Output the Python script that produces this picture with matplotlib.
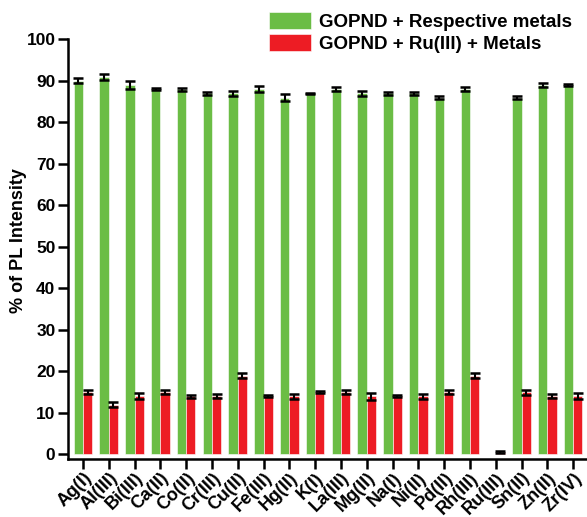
import numpy as np
import matplotlib
matplotlib.use("Agg")
import matplotlib.pyplot as plt

# Ion tiep xuc va cuong do PL (%)
metals = ["Ag(I)", "Al(III)", "Bi(III)", "Ca(II)", "Co(II)", "Cr(III)", "Cu(II)",
          "Fe(III)", "Hg(II)", "K(I)", "La(III)", "Mg(II)", "Na(I)", "Ni(II)",
          "Pd(II)", "Rh(III)", "Ru(III)", "Sn(II)", "Zn(II)", "Zr(IV)"]

# GOPND + kim loai tuong ung (Ru(III) khong do -> 0)
pl_metal = [90, 91, 89, 88, 88, 87, 87, 88, 86, 87, 88, 87, 87, 87, 86, 88, 0, 86, 89, 89]
err_metal = [0.6, 0.7, 1.0, 0.2, 0.4, 0.4, 0.6, 0.7, 0.9, 0.2, 0.5, 0.5, 0.3, 0.4, 0.4, 0.5,
             np.nan, 0.4, 0.5, 0.2]

# GOPND + Ru(III) + kim loai
pl_ru = [15, 12, 14, 15, 14, 14, 19, 14, 14, 15, 15, 14, 14, 14, 15, 19, 0.6, 15, 14, 14]
err_ru = [0.5, 0.6, 0.7, 0.5, 0.3, 0.5, 0.7, 0.2, 0.6, 0.3, 0.5, 0.8, 0.2, 0.6, 0.5, 0.7,
          0.2, 0.6, 0.5, 0.7]

GREEN = "#6bbd45"
RED = "#ed1c24"

plt.rcParams["font.family"] = ["Liberation Sans", "DejaVu Sans"]
plt.rcParams["font.weight"] = "bold"

fig = plt.figure(figsize=(5.87, 5.17), dpi=100)
ax = fig.add_axes([68 / 587, 1 - 458.5 / 517, (586 - 68) / 587, (458.5 - 39.5) / 517])

x = np.arange(len(metals))
w = 0.36
ax.bar(x - w / 2, pl_metal, w, color=GREEN, edgecolor="white", linewidth=0.4,
       label="GOPND + Respective metals")
ax.bar(x + w / 2, pl_ru, w, color=RED, edgecolor="white", linewidth=0.4,
       label="GOPND + Ru(III) + Metals")
ax.errorbar(x - w / 2, pl_metal, yerr=err_metal, fmt="none", ecolor="black",
            elinewidth=1.5, capsize=3.5, capthick=1.8)
ax.errorbar(x + w / 2, pl_ru, yerr=err_ru, fmt="none", ecolor="black",
            elinewidth=1.5, capsize=3.5, capthick=1.8)

ax.set_xlim(-0.58, 19.5)
ax.set_ylim(-1, 100)
ax.set_yticks(np.arange(0, 101, 10))
ax.set_xticks(x)
ax.set_xticklabels(metals, rotation=45, ha="right", va="top", rotation_mode="anchor",
                   fontsize=13, fontweight="bold")
ax.tick_params(axis="x", length=7, width=1.8, pad=1)
ax.tick_params(axis="y", length=7, width=1.8, labelsize=12.5, pad=2)
for lbl in ax.get_yticklabels():
    lbl.set_fontweight("bold")

for s in ["top", "right"]:
    ax.spines[s].set_visible(False)
for s in ["left", "bottom"]:
    ax.spines[s].set_linewidth(1.8)

ax.set_ylabel("% of PL Intensity", fontsize=13, fontweight="bold")
ax.yaxis.set_label_coords(-0.08, 0.52)

fig.legend(loc="upper left", bbox_to_anchor=(269 / 587, 1 - 12 / 517), frameon=False,
           prop={"size": 13.5, "weight": "bold"}, handlelength=2.25, handleheight=1.05,
           handletextpad=0.4, labelspacing=0.15, borderpad=0, borderaxespad=0)

fig.savefig("out.png", dpi=100)
